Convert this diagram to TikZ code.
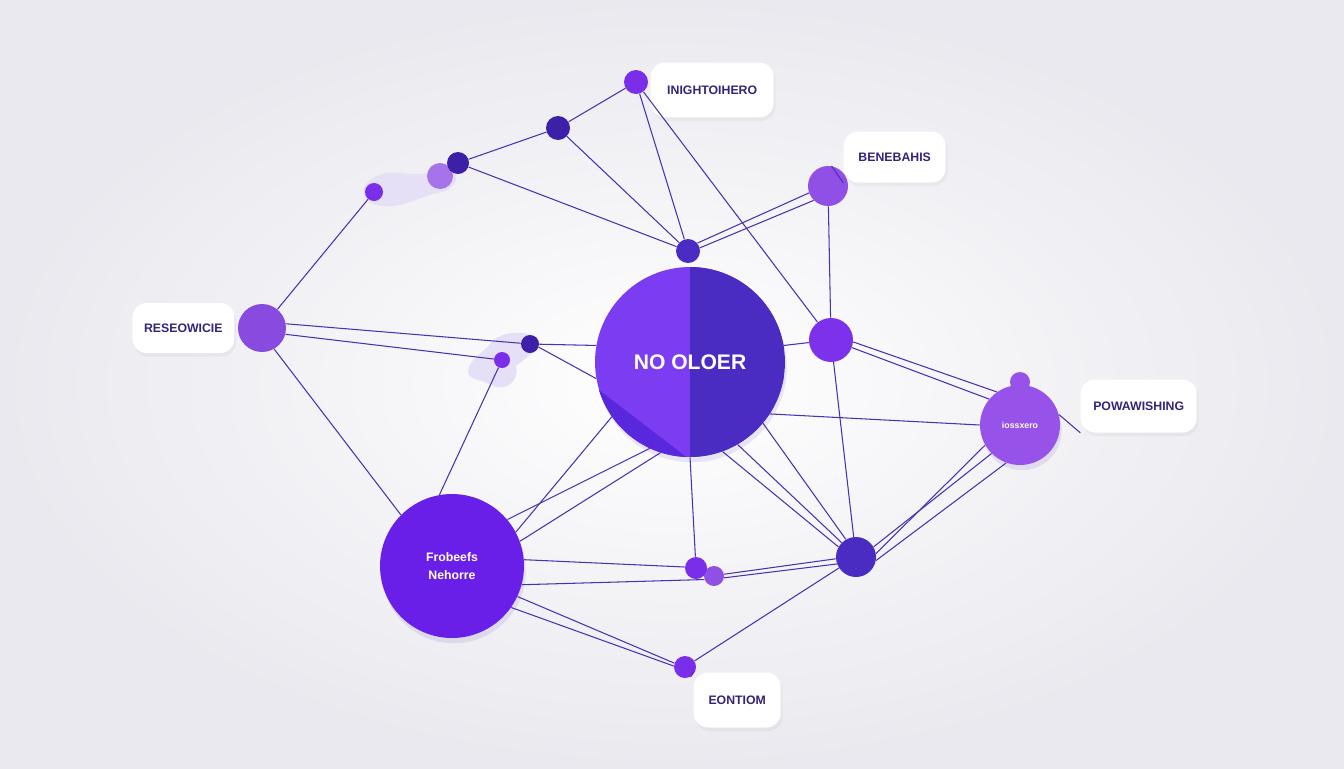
\documentclass[tikz,border=0pt]{standalone}
\usepackage{fontspec}
\setmainfont{Liberation Sans}
\setsansfont{Liberation Sans}
\usetikzlibrary{positioning}
\usetikzlibrary{shadows}

\definecolor{bgedge}{HTML}{E9E9EF}
\definecolor{wire}{HTML}{4A31B0}
\definecolor{violet}{HTML}{7A2EEA}
\definecolor{deep}{HTML}{3C20A8}
\definecolor{lilac}{HTML}{9050E6}
\definecolor{hubleft}{HTML}{7B3CF2}
\definecolor{hubright}{HTML}{4A2CC2}
\definecolor{hubwedge}{HTML}{5A28DC}
\definecolor{hublow}{HTML}{6A1FE8}
\definecolor{hubside}{HTML}{9752EA}
\definecolor{tagtext}{HTML}{33257A}
\definecolor{blob}{HTML}{E6E0F6}

\tikzset{
    node distance=0.5cm,
    dot/.style={
        circle,
        inner sep=0pt,
        fill=violet
    },
    hub/.style={
        dot,
        text=white,
        font=\sffamily\bfseries,
        align=center,
        drop shadow={opacity=0.1, shadow xshift=1pt, shadow yshift=-3pt, fill=deep}
    },
    tag/.style={
        rectangle,
        rounded corners=8pt,
        fill=white,
        text=tagtext,
        font=\fontsize{7}{8}\selectfont\sffamily\bfseries,
        drop shadow={opacity=0.08, shadow xshift=1pt, shadow yshift=-2pt}
    },
    every edge/.append style={
        draw=wire,
        line width=0.6pt
    }
}

\begin{document}
\begin{tikzpicture}[x=0.02cm, y=-0.02cm]
    \useasboundingbox (0,0) rectangle (1344,768);
    \shade[inner color=white, outer color=bgedge] (0,0) rectangle (1344,768);

    \fill[blob] (368,182) .. controls (392,160) and (418,186) .. (438,166)
        .. controls (456,156) and (466,186) .. (442,192)
        .. controls (420,196) and (404,208) .. (382,206)
        .. controls (364,204) and (358,192) .. (368,182) -- cycle;
    \fill[blob] (490,344) .. controls (500,330) and (526,330) .. (536,338)
        .. controls (542,350) and (522,360) .. (516,366)
        .. controls (520,380) and (506,392) .. (494,386)
        .. controls (484,380) and (468,380) .. (468,372)
        .. controls (468,360) and (484,352) .. (490,344) -- cycle;

    \node[hub, minimum size=3.8cm, fill=hubleft,
        path picture={
            \fill[hubright] (path picture bounding box.north) rectangle (path picture bounding box.south east);
        }] (hC) at (690,362) {};
    \fill[hubwedge] (hC.197) arc[start angle=197, end angle=268, radius=1.9cm] -- cycle;
    \node[text=white, font=\fontsize{12}{14}\selectfont\sffamily\bfseries] (hCtext) at (hC) {NO OLOER};
    \node[hub, minimum size=2.88cm, fill=hublow, font=\fontsize{7}{10}\selectfont\sffamily\bfseries] (hB) at (452,566) {Frobeefs\\Nehorre};
    \node[dot, minimum size=0.4cm, fill=hubside] (kR) at (1020,382) {};
    \node[hub, minimum size=1.6cm, fill=hubside, font=\fontsize{5}{6}\selectfont\sffamily\bfseries] (hR) at (1020,425) {iossxero};
    \node[dot, minimum size=0.96cm, fill=hubside!85!deep] (hL) at (262,328) {};

    \node[dot, minimum size=0.48cm] (dA) at (636,82) {};
    \node[dot, minimum size=0.48cm, fill=deep] (dB) at (558,128) {};
    \node[dot, minimum size=0.52cm, fill=lilac!80] (dC2) at (440,176) {};
    \node[dot, minimum size=0.44cm, fill=deep] (dC) at (458,163) {};
    \node[dot, minimum size=0.36cm] (dD) at (374,192) {};
    \node[dot, minimum size=0.8cm, fill=lilac] (dE) at (828,186) {};
    \node[dot, minimum size=0.48cm, fill=hubright] (dK) at (688,251) {};
    \node[dot, minimum size=0.88cm, fill=violet!90!lilac] (dF) at (831,340) {};
    \node[dot, minimum size=0.36cm, fill=deep] (dG) at (530,344) {};
    \node[dot, minimum size=0.32cm] (dH) at (502,360) {};
    \node[dot, minimum size=0.4cm, fill=lilac] (dI2) at (714,576) {};
    \node[dot, minimum size=0.44cm] (dI) at (696,568) {};
    \node[dot, minimum size=0.8cm, fill=hubright] (dJ) at (856,557) {};
    \node[dot, minimum size=0.44cm] (dL) at (685,667) {};

    \node[tag, minimum width=2.46cm, minimum height=1.1cm, right=0.04cm of dA, yshift=-0.16cm] (t1) {INIGHTOIHERO};
    \node[tag, minimum width=2.04cm, minimum height=1.02cm, right=-0.1cm of dE, yshift=0.58cm] (t2) {BENEBAHIS};
    \node[tag, minimum width=2.04cm, minimum height=1.0cm, left=0.06cm of hL] (t3) {RESEOWICIE};
    \node[tag, minimum width=2.32cm, minimum height=1.06cm, right=0.4cm of hR, yshift=0.38cm] (t4) {POWAWISHING};
    \node[tag, minimum width=1.74cm, minimum height=1.1cm, right=-0.06cm of dL, yshift=-0.66cm] (t5) {EONTIOM};

    \path (dA) edge (dB)
          (dB) edge (dC)
          (dA) edge (dK)
          (dA) edge (dF)
          (dB) edge (dK)
          (dC) edge (dK)
          (dD) edge (hL)
          (dE.200) edge (dK.40)
          (dE.225) edge (dK.15)
          (dE) edge (dF)
          (dE.80) edge (t2.south west)
          (hL.10) edge (dG)
          (hL.-15) edge (dH)
          (dG) edge (hC.170)
          (dG.-20) edge (hC.190)
          (hL.-60) edge (hB.135)
          (dH) edge (hB.100)
          (hC.215) edge (hB.28)
          (hC.245) edge (hB.40)
          (hC.252) edge (hB.20)
          (hC.270) edge (dI)
          (hC.290) edge (dJ.150)
          (hC.300) edge (dJ.135)
          (hC.320) edge (dJ.120)
          (hC.-33) edge (hR.180)
          (hC.10) edge (dF)
          (dF.-20) edge (hR.140)
          (dF.-5) edge (hR.125)
          (dF) edge (dJ)
          (dJ.10) edge (hR.210)
          (dJ.30) edge (hR.225)
          (dJ.-10) edge (hR.250)
          (hR.15) edge (t4.south west)
          (hB.5) edge (dI.175)
          (hB.-15) edge (dI2.200)
          (dI2.10) edge (dJ.185)
          (dI2.-10) edge (dJ.200)
          (hB.-25) edge (dL.160)
          (hB.-35) edge (dL.175)
          (dL) edge (dJ)
          (dL.-60) edge (t5.north west);
\end{tikzpicture}
\end{document}
